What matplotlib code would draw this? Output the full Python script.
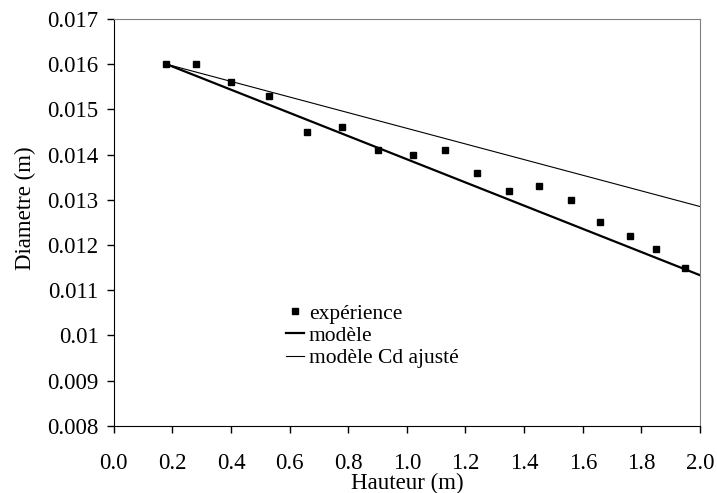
import matplotlib.pyplot as plt
import numpy as np

plt.rcParams['font.family'] = ['Liberation Serif', 'DejaVu Serif']

# données mesurées
hauteur = [0.18, 0.28, 0.40, 0.53, 0.66, 0.78, 0.90, 1.02, 1.13, 1.24,
           1.35, 1.45, 1.56, 1.66, 1.76, 1.85, 1.95]
diametre = [0.0160, 0.0160, 0.0156, 0.0153, 0.0145, 0.0146, 0.0141, 0.0140,
            0.0141, 0.0136, 0.0132, 0.0133, 0.0130, 0.0125, 0.0122, 0.0119,
            0.0115]

# modèles
h_modele = [0.18, 2.0]
d_modele = [0.0160, 0.01133]
h_cd = [0.18, 2.0]
d_cd = [0.0160, 0.01285]

xticks = [0.0, 0.2, 0.4, 0.6, 0.8, 1.0, 1.2, 1.4, 1.6, 1.8, 2.0]
yticks = [0.008, 0.009, 0.01, 0.011, 0.012, 0.013, 0.014, 0.015, 0.016, 0.017]
ytick_labels = ['0.008', '0.009', '0.01', '0.011', '0.012', '0.013',
                '0.014', '0.015', '0.016', '0.017']

FS = 16.5

fig = plt.figure(figsize=(7.17, 4.93), dpi=100)
ax = fig.add_axes([0.1586, 0.1365, 0.8177, 0.825])

ax.plot(hauteur, diametre, 's', color='black', markersize=4.5, label='expérience')
ax.plot(h_modele, d_modele, '-', color='black', lw=1.6, label='modèle')
ax.plot(h_cd, d_cd, '-', color='black', lw=0.8, label='modèle Cd ajusté')

ax.set_xlim(0, 2.0)
ax.set_ylim(0.008, 0.017)
ax.set_xticks(xticks)
ax.set_xticklabels([f'{v:.1f}' for v in xticks])
ax.set_yticks(yticks)
ax.set_yticklabels(ytick_labels)
ax.tick_params(direction='out', length=5, width=1, labelsize=FS, pad=6)
ax.tick_params(axis='x', pad=15)

for s in ['top', 'right']:
    ax.spines[s].set_color('#808080')
for s in ['left', 'bottom']:
    ax.spines[s].set_color('black')

ax.set_xlabel('Hauteur (m)', fontsize=FS, labelpad=-1.5)
ax.set_ylabel('Diametre (m)', fontsize=FS)
ax.yaxis.set_label_coords(-0.133, 0.535)

ax.legend(loc='upper left', bbox_to_anchor=(0.294, 0.30), frameon=False,
          fontsize=15.5, handlelength=0.85, handletextpad=0.2, labelspacing=0.1,
          borderpad=0, borderaxespad=0)

fig.savefig('out.png', dpi=100)
